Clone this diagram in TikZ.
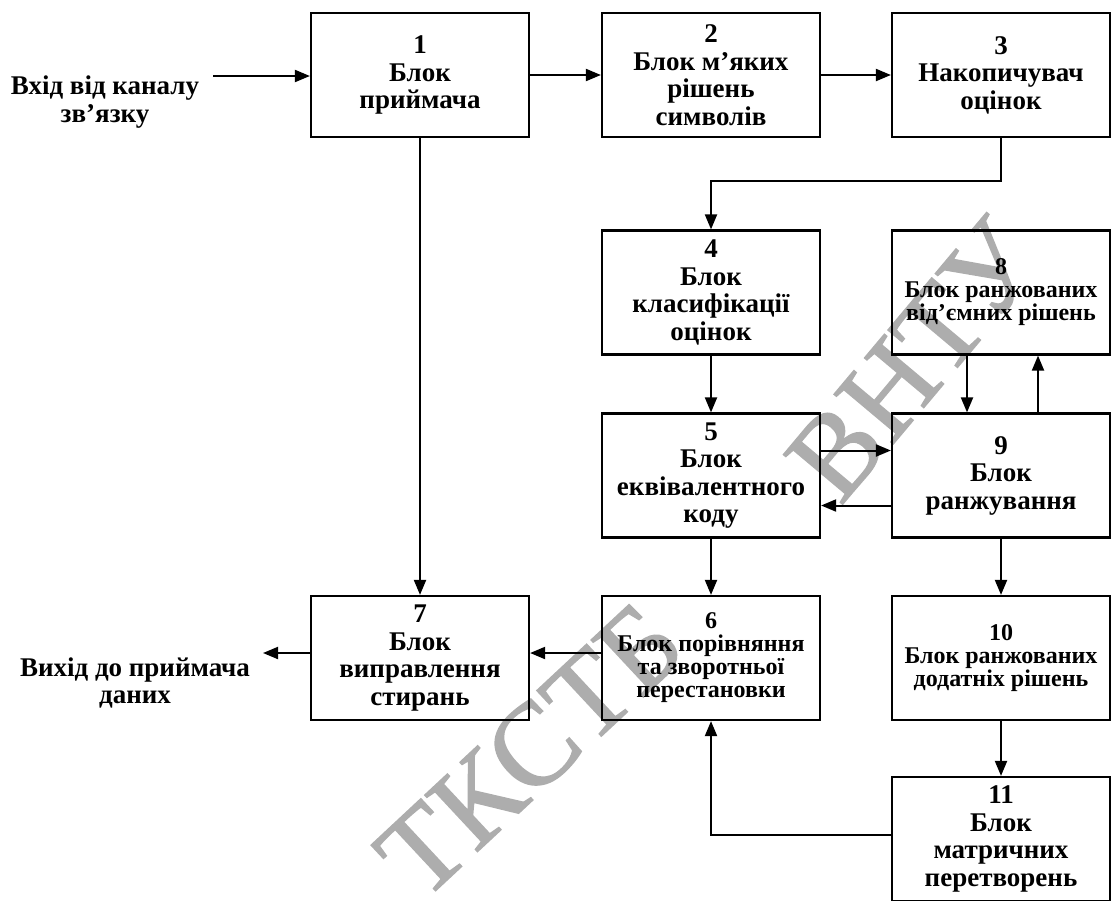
\documentclass[tikz,border=0pt]{standalone}
\usepackage{fontspec}
\setmainfont{Liberation Serif}
\newfontfamily\stampfont[FakeBold=1.2]{Liberation Serif}
\usetikzlibrary{arrows.meta}

\tikzset{
  blk/.style={draw, line width=2.2pt, minimum width=218pt, minimum height=124pt,
    inner sep=0pt, align=center, font=\fontsize{27}{27.5}\selectfont\bfseries},
  blksmall/.style={blk, font=\fontsize{24}{23}\selectfont\bfseries},
  lbl/.style={align=center, inner sep=0pt, font=\fontsize{27}{27.5}\selectfont\bfseries},
  arr/.style={line width=2pt, -{Triangle[length=15pt,width=12pt]}},
  wmark/.style={inner sep=0pt, text=black!32, font=\stampfont\fontsize{118}{118}\selectfont}
}

\begin{document}
\begin{tikzpicture}[x=1pt, y=-1pt]
\useasboundingbox (0,0) rectangle (1111,900);

% faint stamps behind the scheme
\node[wmark, rotate=50] (wmA) at (914,360) {ВНТУ};
\node[wmark, rotate=43] (wmB) at (530,750) {ТКСТБ};

% blocks
\node[blk] (b1) at (420,75) {1\\Блок\\приймача};
\node[blk] (b2) at (711,75) {2\\Блок м’яких\\рішень\\символів};
\node[blk] (b3) at (1001,75) {3\\Накопичувач\\оцінок};
\node[blk] (b4) at (711,292.5) {4\\Блок\\класифікації\\оцінок};
\node[blksmall] (b8) at (1001,292.5) {8\\Блок ранжованих\\від’ємних рішень};
\node[blk] (b5) at (711,475.5) {5\\Блок\\еквівалентного\\коду};
\node[blk] (b9) at (1001,475.5) {9\\Блок\\ранжування};
\node[blk] (b7) at (420,658) {7\\Блок\\виправлення\\стирань};
\node[blksmall] (b6) at (711,658) {6\\Блок порівняння\\та зворотньої\\перестановки};
\node[blksmall] (b10) at (1001,658) {10\\Блок ранжованих\\додатніх рішень};
\node[blk] (b11) at (1001,839) {11\\Блок\\матричних\\перетворень};

% external labels
\node[lbl] (inL) at (105,102) {Вхід від каналу\\зв’язку};
\node[lbl] (outL) at (135,683) {Вихід до приймача\\даних};
\coordinate (inS) at (213,76);
\coordinate (outE) at (263,653);
\coordinate (turn34) at (1001,181);

% connections
\draw[arr] (inS) -- (inS -| b1.west);
\draw[arr] (b1.east) -- (b2.west);
\draw[arr] (b2.east) -- (b3.west);
\draw[arr] (b3.south) -- (turn34) -| (b4.north);
\draw[arr] (b4.south) -- (b5.north);
\draw[arr] (b5.south) -- (b6.north);
\draw[arr] (b1.south) -- (b7.north);
\draw[arr] ([yshift=5pt]b6.west) -- ([yshift=5pt]b7.east);
\draw[arr] ([yshift=5pt]b7.west) -- (outE);
\draw[arr] ([yshift=25pt]b5.east) -- ([yshift=25pt]b9.west);
\draw[arr] ([yshift=-30pt]b9.west) -- ([yshift=-30pt]b5.east);
\draw[arr] ([xshift=-34pt]b8.south) -- ([xshift=-34pt]b9.north);
\draw[arr] ([xshift=37pt]b9.north) -- ([xshift=37pt]b8.south);
\draw[arr] (b9.south) -- (b10.north);
\draw[arr] (b10.south) -- (b11.north);
\draw[arr] ([yshift=4pt]b11.west) -| (b6.south);
\end{tikzpicture}
\end{document}
